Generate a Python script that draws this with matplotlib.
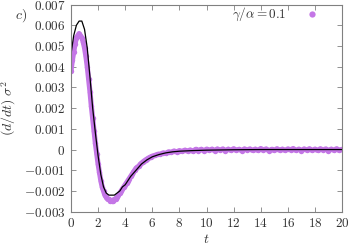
import numpy as np
import matplotlib
matplotlib.use("Agg")
import matplotlib.pyplot as plt

plt.rcParams['mathtext.fontset'] = 'cm'
plt.rcParams['font.family'] = 'serif'
plt.rcParams['font.serif'] = ['cmr10', 'DejaVu Serif']
plt.rcParams['axes.unicode_minus'] = False

# black reference curve
t_line = [0, 0.2, 0.4, 0.6, 0.8, 1.0, 1.2, 1.4, 1.6, 1.8, 2.0, 2.2, 2.4, 2.6,
          2.8, 3.0, 3.2, 3.4, 3.6, 3.8, 4.0, 4.4, 4.8, 5.2, 5.6, 6.0, 6.5,
          7.0, 7.5, 8.0, 9, 10, 12, 14, 16, 18, 20]
v_line = [0.0046, 0.0055, 0.0060, 0.0062, 0.0062, 0.0058, 0.0049, 0.0035,
          0.0020, 0.0008, -0.0003, -0.0012, -0.0018, -0.0021, -0.0022,
          -0.0022, -0.0022, -0.0021, -0.0020, -0.0018, -0.0017, -0.0013,
          -0.0010, -0.0007, -0.0005, -0.00035, -0.00024, -0.00016, -0.00011,
          -0.00008, -0.00005, -0.00003, -0.00001, 0, 0, 0, 0]

# simulation points (gamma/alpha = 0.1)
t_head = np.round(np.arange(0, 6.05, 0.1), 1)
v_head = [0.0038, 0.0043, 0.0047, 0.0051, 0.0054, 0.0055, 0.0056, 0.0055,
          0.0054, 0.0052, 0.0049, 0.0045, 0.0040, 0.0034, 0.0028, 0.0021,
          0.0015, 0.0009, 0.0003, -0.0002, -0.0007, -0.0011, -0.0015,
          -0.0018, -0.0020, -0.0022, -0.0023, -0.0024, -0.0024, -0.0025,
          -0.0025, -0.0025, -0.0024, -0.0024, -0.0023, -0.0022, -0.0021,
          -0.0020, -0.0019, -0.0018, -0.0017, -0.0016, -0.0015, -0.0014,
          -0.0013, -0.0012, -0.0011, -0.0010, -0.0009, -0.00085, -0.0008,
          -0.00072, -0.00066, -0.0006, -0.00055, -0.0005, -0.00046,
          -0.00042, -0.00038, -0.00035, -0.00032]
t_tail = np.round(np.arange(6.2, 20.05, 0.2), 1)
v_tail = [-0.00028, -0.00023, -0.00022, -0.00016, -0.00018, -0.00011,
          -0.00013, -0.00007, -0.00011, -0.00005, -0.00009, -0.00003,
          -0.00007, -0.00002, -0.00008, 0.00001, -0.00005, 0.00001,
          -0.00006, 0.00002, -0.00004, 0.00002, -0.00005, 0.00003,
          -0.00003, 0.00003, -0.00006, 0.00002, -0.00004, 0.00004,
          -0.00003, 0.00001, -0.00005, 0.00003, -0.00002, 0.00003,
          -0.00004, 0.00002, -0.00004, 0.00005, -0.00002, 0.00003,
          -0.00005, 0.00001, -0.00004, 0.00004, -0.00003, 0.00002,
          -0.00004, 0.00003, -0.00001, 0.00005, -0.00004, 0.00002,
          -0.00005, 0.00003, -0.00002, 0.00004, -0.00004, 0.00002,
          -0.00004, 0.00004, -0.00002, 0.00003, -0.00005, 0.00002,
          -0.00003, 0.00004, -0.00004, 0.00001]

x_ticks = [0, 2, 4, 6, 8, 10, 12, 14, 16, 18, 20]
y_ticks = [-0.003, -0.002, -0.001, 0, 0.001, 0.002, 0.003, 0.004, 0.005,
           0.006, 0.007]
y_tick_labels = ['-0.003', '-0.002', '-0.001', '0', '0.001', '0.002',
                 '0.003', '0.004', '0.005', '0.006', '0.007']

purple = '#c476e6'
grey = '#808080'
text_col = '#333333'

fig = plt.figure(figsize=(3.49, 2.46), dpi=100)
ax = fig.add_axes([0.2034, 0.1394, 0.7766, 0.8423])

t_pts = np.concatenate([t_head, t_tail])
v_pts = np.concatenate([v_head, v_tail])
# dense cloud of points -> draw as a thick band plus the dots themselves
ax.plot(t_pts, v_pts, '-', color=purple, lw=3.7, solid_capstyle='round',
        solid_joinstyle='round')
ax.plot(t_pts, v_pts, 'o', color=purple, markersize=3.9, markeredgewidth=0)
ax.plot(t_line, v_line, color='black', lw=0.9)

ax.set_xlim(0, 20)
ax.set_ylim(-0.003, 0.007)
ax.set_xticks(x_ticks)
ax.set_xticklabels([f'${v}$' for v in x_ticks])
ax.set_yticks(y_ticks)
ax.set_yticklabels([f'${s}$' for s in y_tick_labels])

for s in ax.spines.values():
    s.set_color(grey)
    s.set_linewidth(0.8)
ax.tick_params(direction='in', top=True, right=True, length=3.5, width=0.6,
               color=grey, labelsize=9.5, labelcolor=text_col, pad=4)

ax.set_xlabel('$t$', fontsize=10, color=text_col, labelpad=2)
ax.set_ylabel(r'$(d/dt)\;\sigma^2$', fontsize=10, color=text_col, labelpad=4)
fig.text(0.043, 0.925, '$c)$', fontsize=10, color=text_col)

# gnuplot-style key: label then symbol
ax.text(0.797, 0.954, r'$\gamma/\alpha = 0.1$', transform=ax.transAxes,
        ha='right', va='center', fontsize=9.5, color=text_col)
ax.plot([0.889], [0.954], 'o', transform=ax.transAxes, color=purple,
        markersize=4.5, markeredgewidth=0, clip_on=False)

fig.savefig('out.png', dpi=100)
